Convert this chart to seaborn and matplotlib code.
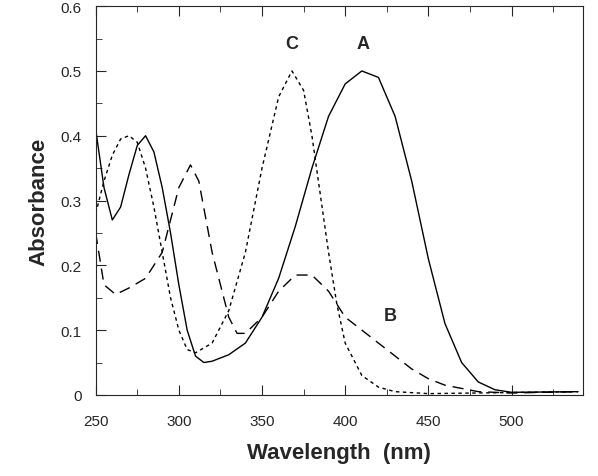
import numpy as np
import pandas as pd
import seaborn as sns
import matplotlib.pyplot as plt
from matplotlib.ticker import MultipleLocator, FuncFormatter

wl_a = [250, 255, 260, 265, 270, 275, 280, 285, 290, 295, 300, 305, 310, 315, 320, 330, 340, 350, 360, 370, 380, 390,
        400, 410, 420, 430, 440, 450, 460, 470, 480, 490, 500, 540]
abs_a = [0.41, 0.32, 0.27, 0.29, 0.34, 0.385, 0.40, 0.375, 0.32, 0.25, 0.17, 0.10, 0.06, 0.05, 0.052, 0.062, 0.08, 0.12,
         0.18, 0.26, 0.35, 0.43, 0.48, 0.50, 0.49, 0.43, 0.33, 0.21, 0.11, 0.05, 0.02, 0.008, 0.004, 0.005]

wl_b = [250, 255, 262, 270, 280, 290, 295, 300, 307, 312, 320, 330, 335, 340, 350, 360, 370, 380, 390, 400, 410, 420,
        430, 440, 450, 460, 470, 480, 500, 540]
abs_b = [0.25, 0.17, 0.155, 0.165, 0.18, 0.22, 0.27, 0.32, 0.355, 0.33, 0.22, 0.12, 0.095, 0.095, 0.12, 0.16, 0.185,
         0.185, 0.16, 0.12, 0.10, 0.08, 0.06, 0.04, 0.025, 0.015, 0.01, 0.005, 0.003, 0.005]

wl_c = [250, 255, 260, 265, 270, 275, 280, 285, 290, 295, 300, 305, 310, 320, 330, 340, 350, 360, 368, 375, 380, 385,
        390, 395, 400, 410, 420, 430, 450, 540]
abs_c = [0.28, 0.33, 0.37, 0.395, 0.40, 0.39, 0.35, 0.29, 0.22, 0.15, 0.10, 0.07, 0.065, 0.08, 0.13, 0.22, 0.35, 0.46,
         0.50, 0.47, 0.40, 0.31, 0.22, 0.14, 0.08, 0.03, 0.012, 0.005, 0.002, 0.005]

sns.set_style("ticks")
plt.rcParams['font.family'] = ['Liberation Sans', 'DejaVu Sans']

fig, ax = plt.subplots(figsize=(5.98, 4.77), dpi=100)
sns.lineplot(x=wl_a, y=abs_a, ax=ax, color='black', lw=1.0)
sns.lineplot(x=wl_b, y=abs_b, ax=ax, color='black', lw=1.0, linestyle=(0, (8, 5)))
sns.lineplot(x=wl_c, y=abs_c, ax=ax, color='black', lw=1.0, linestyle=(0, (2.5, 2.5)))

ax.text(368, 0.535, 'C', fontsize=13, fontweight='bold', ha='center')
ax.text(411, 0.535, 'A', fontsize=13, fontweight='bold', ha='center')
ax.text(427, 0.115, 'B', fontsize=13, fontweight='bold', ha='center')

ax.set_xlim(250, 543)
ax.set_ylim(0, 0.6)
ax.xaxis.set_major_locator(MultipleLocator(50))
ax.xaxis.set_minor_locator(MultipleLocator(25))
ax.yaxis.set_major_locator(MultipleLocator(0.1))
ax.yaxis.set_minor_locator(MultipleLocator(0.05))
ax.yaxis.set_major_formatter(FuncFormatter(lambda v, p: '0' if abs(v) < 1e-9 else f'{v:.1f}'))
ax.tick_params(which='both', direction='in', top=True, right=False, labelsize=11)
ax.tick_params(which='major', length=7)
ax.tick_params(which='minor', length=4)
ax.tick_params(axis='x', pad=14)
ax.tick_params(axis='y', pad=10)
for s in ax.spines.values():
    s.set_visible(True)
ax.set_xlabel('Wavelength  (nm)', fontsize=16, fontweight='bold', labelpad=10)
ax.set_ylabel('Absorbance', fontsize=16, fontweight='bold', labelpad=8)
plt.subplots_adjust(left=0.16, right=0.975, top=0.985, bottom=0.17)
plt.savefig('out.png', dpi=100)
